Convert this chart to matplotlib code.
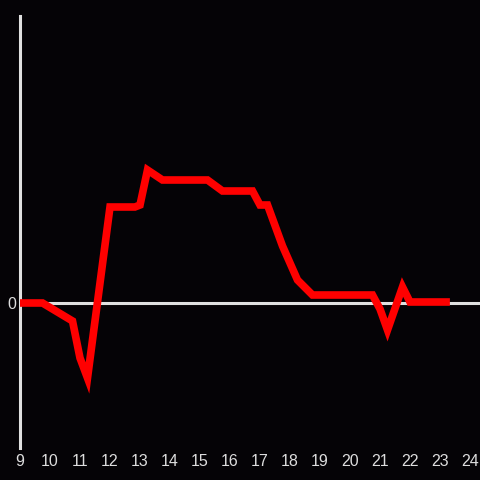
import matplotlib
matplotlib.use('Agg')

import matplotlib.pyplot as plt

# Hodiny (x) a hodnoty (y)
hours = [9.0, 9.75, 10.75, 11.0, 11.25, 12.0, 12.83, 13.0, 13.25, 13.75,
         15.25, 15.75, 16.75, 17.0, 17.25, 17.75, 18.25, 18.75, 20.75,
         21.0, 21.25, 21.75, 22.0, 23.33]
values = [0, 0, -18, -55, -75, 96, 96, 98, 133, 123,
          123, 112, 112, 98, 98, 57, 23, 8, 8,
          -6, -27, 16, 1, 1]
x_ticks = list(range(9, 25))

BG = '#050306'
AXIS = '#e0e0e0'
TEXT = '#dddddd'

fig = plt.figure(figsize=(4.8, 4.8), dpi=100, facecolor=BG)
ax = fig.add_axes([20 / 480, 32 / 480, 460 / 480, 432 / 480])
ax.set_facecolor(BG)

ax.plot(hours, values, color='#ff0000', linewidth=5.5,
        solid_joinstyle='miter', solid_capstyle='butt', zorder=3)
ax.axhline(0, color=AXIS, linewidth=2.2, zorder=2)

ax.set_xlim(9, 9 + 460 / 30)
ax.set_ylim(-145, 287)

for side in ['top', 'right', 'bottom']:
    ax.spines[side].set_visible(False)
ax.spines['left'].set_color(AXIS)
ax.spines['left'].set_linewidth(2.2)

ax.set_xticks(x_ticks)
ax.set_xticklabels([str(t) for t in x_ticks])
ax.set_yticks([0])
ax.set_yticklabels(['0'])
ax.tick_params(axis='both', length=0, colors=TEXT, labelsize=11.5)
ax.tick_params(axis='x', pad=4)
ax.tick_params(axis='y', pad=3)
for lbl in ax.get_xticklabels() + ax.get_yticklabels():
    lbl.set_fontfamily('Liberation Sans')

fig.savefig('out.png', dpi=100, facecolor=BG)
plt.close(fig)
